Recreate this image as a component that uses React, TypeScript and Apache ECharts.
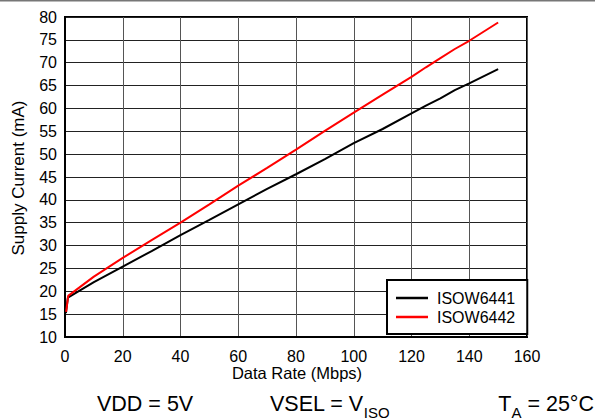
import React, { useEffect, useRef } from "react";
import * as echarts from "echarts";

const dataRate6441 = [0.3, 1, 10, 20, 30, 40, 50, 60, 70, 80, 90, 100, 110, 120, 125, 130, 135, 140, 150];
const current6441 = [15.2, 18.6, 22, 25.4, 28.8, 32.3, 35.6, 39, 42.4, 45.6, 48.9, 52.4, 55.5, 58.9, 60.6, 62.2, 64, 65.5, 68.6];
const dataRate6442 = [0.4, 1.1, 10, 20, 30, 40, 50, 60, 70, 80, 90, 100, 110, 120, 125, 130, 135, 140, 150];
const current6442 = [15.5, 19, 23.2, 27.3, 31.2, 35, 39, 43.1, 47, 51, 55.1, 59.1, 63, 66.9, 69, 71, 73, 74.8, 78.8];
const seriesNames = ["ISOW6441", "ISOW6442"];
const seriesColors = ["#000000", "#ff0000"];
const xTicks = { min: 0, max: 160, interval: 20 };
const yTicks = { min: 10, max: 80, interval: 5 };

export default function App() {
  const ref = useRef<HTMLDivElement>(null);
  useEffect(() => {
    if (!ref.current) return;
    const chart = echarts.init(ref.current, null, { renderer: "svg" });
    const font = "Arial, 'Liberation Sans', sans-serif";
    const pairs = (xs: number[], ys: number[]) => xs.map((x, i) => [x, ys[i]]);
    const richSub = {
      n: { fontSize: 21.5, lineHeight: 32, fontFamily: font, fill: "#000" },
      s: { fontSize: 15, lineHeight: 14, verticalAlign: "bottom", fontFamily: font, fill: "#000" },
    };
    chart.setOption({
      animation: false,
      backgroundColor: "#fff",
      textStyle: { fontFamily: font },
      grid: {
        left: 65,
        right: 68,
        top: 17,
        bottom: 83,
        show: true,
        borderColor: "#000",
        borderWidth: 2,
        containLabel: false,
      },
      xAxis: {
        type: "value",
        min: xTicks.min,
        max: xTicks.max,
        interval: xTicks.interval,
        axisLine: { show: true, lineStyle: { color: "#000", width: 2 } },
        axisTick: { show: false },
        axisLabel: { color: "#000", fontSize: 16, margin: 11, fontFamily: font },
        splitLine: { show: true, lineStyle: { color: "#555", width: 1 } },
      },
      yAxis: {
        type: "value",
        min: yTicks.min,
        max: yTicks.max,
        interval: yTicks.interval,
        axisLine: { show: true, lineStyle: { color: "#000", width: 2 } },
        axisTick: { show: false },
        axisLabel: { color: "#000", fontSize: 16, margin: 8, fontFamily: font },
        splitLine: { show: true, lineStyle: { color: "#222", width: 1 } },
      },
      legend: {
        orient: "vertical",
        left: 387,
        top: 280,
        padding: [10, 12, 9, 9],
        itemGap: 3,
        itemWidth: 32,
        itemHeight: 2.5,
        icon: "rect",
        borderColor: "#000",
        borderWidth: 2,
        backgroundColor: "#fff",
        borderRadius: 0,
        textStyle: { color: "#000", fontSize: 16, fontFamily: font, padding: [0, 0, 0, 4], lineHeight: 16 },
        data: seriesNames,
      },
      series: [
        {
          name: seriesNames[0],
          type: "line",
          data: pairs(dataRate6441, current6441),
          symbol: "none",
          showSymbol: false,
          lineStyle: { color: seriesColors[0], width: 2 },
          itemStyle: { color: seriesColors[0] },
        },
        {
          name: seriesNames[1],
          type: "line",
          data: pairs(dataRate6442, current6442),
          symbol: "none",
          showSymbol: false,
          lineStyle: { color: seriesColors[1], width: 2 },
          itemStyle: { color: seriesColors[1] },
        },
      ],
      graphic: [
        { type: "rect", shape: { x: 0, y: 0, width: 595, height: 1.5 }, style: { fill: "#777" } },
        {
          type: "text",
          x: 18,
          y: 178,
          rotation: Math.PI / 2,
          style: {
            text: "Supply Current (mA)",
            fontSize: 17,
            fontFamily: font,
            fill: "#000",
            align: "center",
            verticalAlign: "middle",
          },
        },
        {
          type: "text",
          x: 297,
          y: 373,
          style: {
            text: "Data Rate (Mbps)",
            fontSize: 16.5,
            fontFamily: font,
            fill: "#000",
            align: "center",
            verticalAlign: "middle",
          },
        },
        {
          type: "text",
          x: 97,
          y: 403.6,
          style: {
            text: "{n|VDD = 5V}",
            fontFamily: font,
            fill: "#000",
            align: "left",
            verticalAlign: "middle",
            rich: richSub,
          },
        },
        {
          type: "text",
          x: 270,
          y: 403.6,
          style: {
            text: "{n|VSEL = V}{s|ISO}",
            fontFamily: font,
            fill: "#000",
            align: "left",
            verticalAlign: "middle",
            rich: richSub,
          },
        },
        {
          type: "text",
          x: 594,
          y: 403.6,
          style: {
            text: "{n|T}{s|A}{n| = 25°C}",
            fontFamily: font,
            fill: "#000",
            align: "right",
            verticalAlign: "middle",
            rich: richSub,
          },
        },
      ],
    });
    return () => chart.dispose();
  }, []);
  return (
    <div
      ref={ref}
      style={{ position: "fixed", left: 0, top: 0, width: 595, height: 420, background: "#fff" }}
    />
  );
}
